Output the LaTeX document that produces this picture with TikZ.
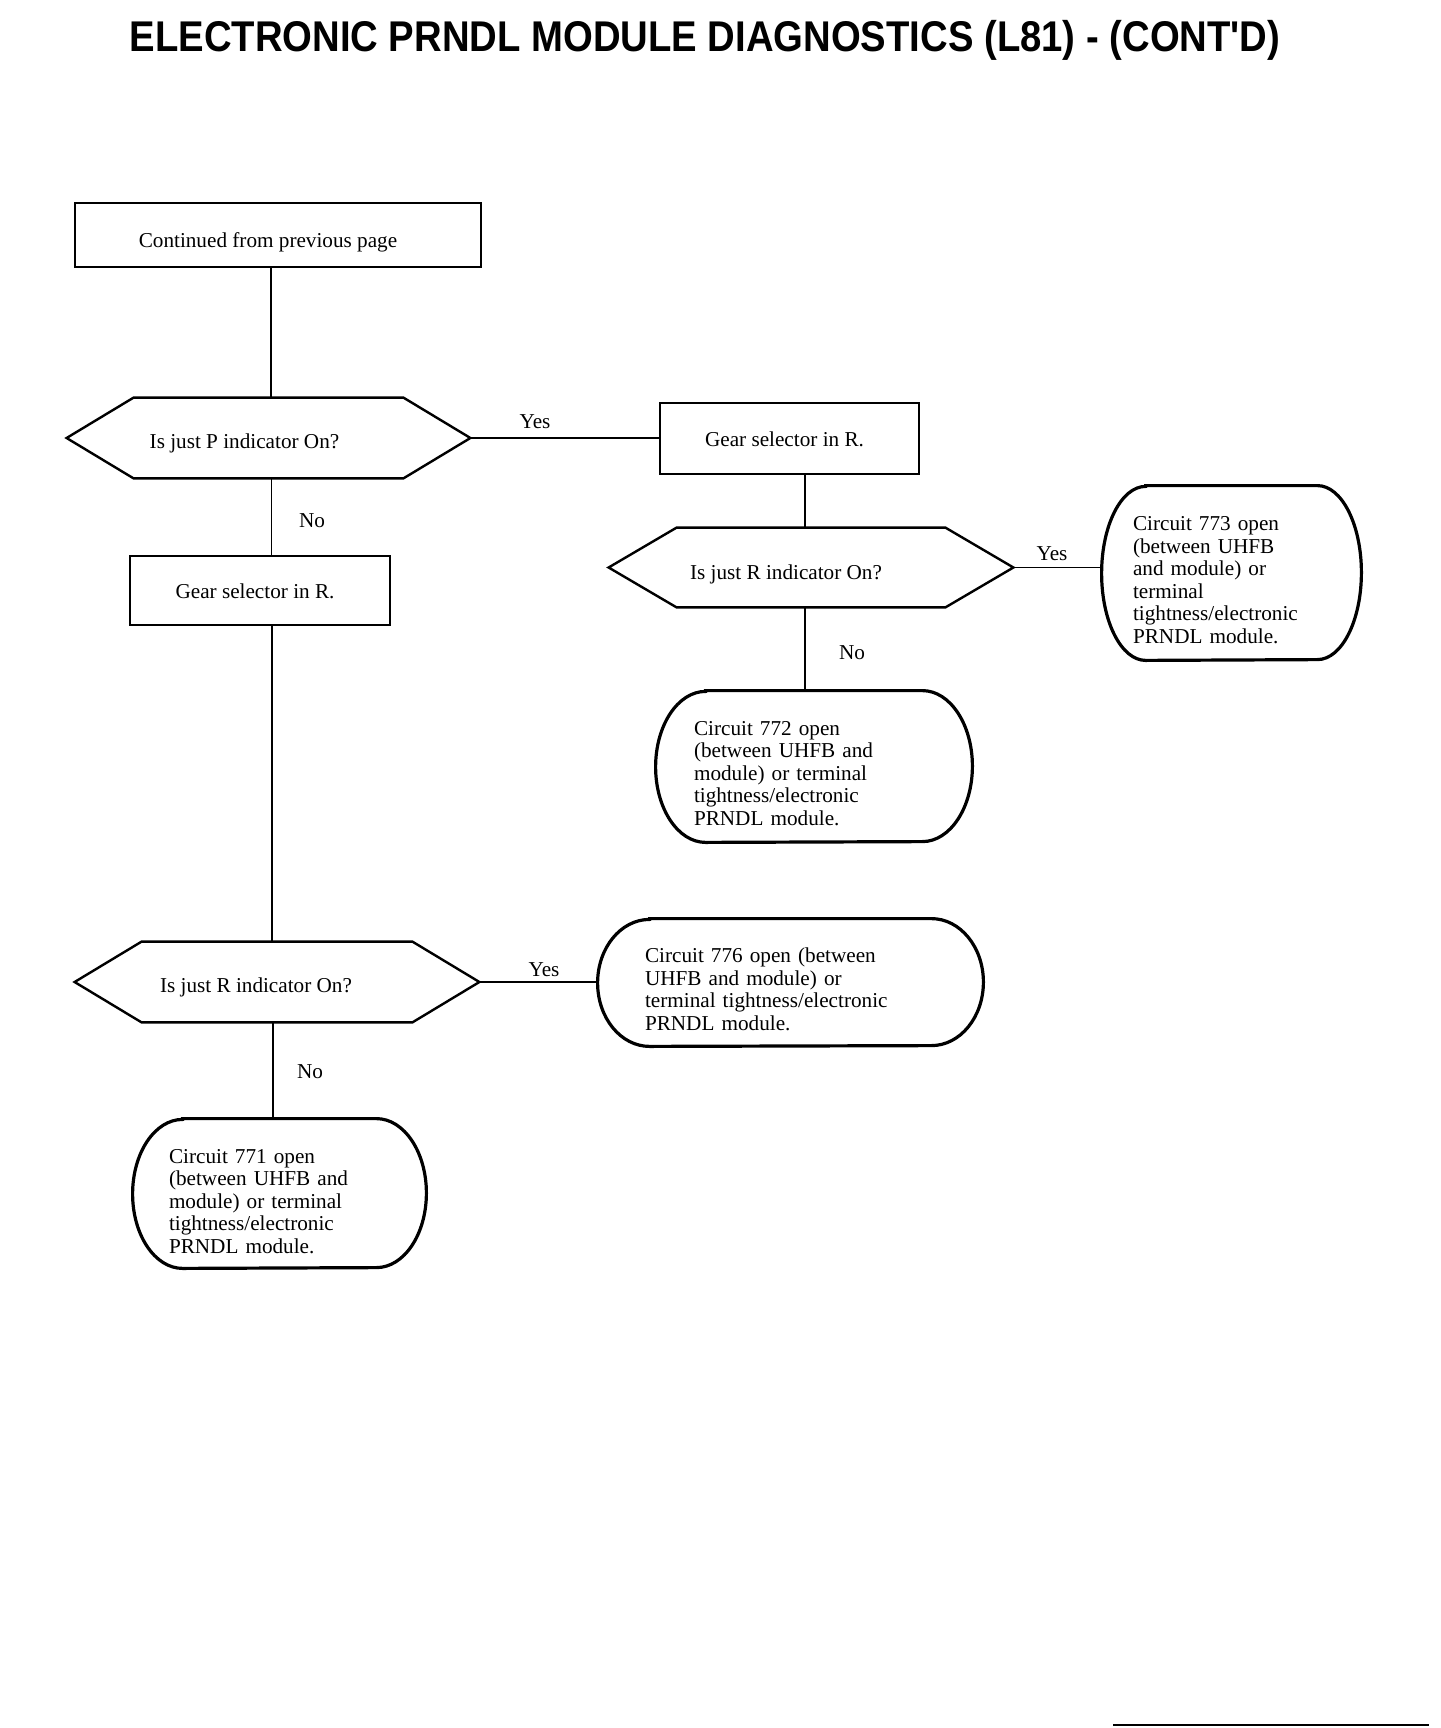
\documentclass[tikz,border=0pt]{standalone}
\usepackage{fontspec}
\setmainfont{Liberation Serif}
\newfontfamily\titlefont{Liberation Sans}
\usepackage{graphicx}
\newcommand\hexoutline[2]{\draw[hexline] (#1.west) -- ([xshift=#2]#1.north west) -- ([xshift=-#2]#1.north east) -- (#1.east) -- ([xshift=-#2]#1.south east) -- ([xshift=#2]#1.south west) -- cycle;}
\newcommand\termoutline[3]{\draw[termline] ([xshift=#2]#1.north west) -- ([xshift=-#2]#1.north east) arc[start angle=90,end angle=-90,x radius=#2,y radius=#3] -- ([xshift=#2]#1.south west) arc[start angle=270,end angle=90,x radius=#2,y radius=#3] -- cycle;}
\newcommand\tdown{\rule{0pt}{14pt}}
\begin{document}
\begin{tikzpicture}[x=0.5pt,y=-0.5pt,
  every node/.style={font=\fontsize{10.6pt}{11.25pt}\selectfont, inner sep=0pt},
  titlenode/.style={font=\titlefont\bfseries\fontsize{21.5pt}{24pt}\selectfont},
  boxnode/.style={draw, line width=1.2pt},
  hexnode/.style={draw=none},
  hexline/.style={line width=1.2pt, line join=miter},
  termnode/.style={draw=none, align=left},
  termline/.style={line width=1.6pt},
  conn/.style={line width=0.9pt},
  lab/.style={yshift=-0.8pt}]
\useasboundingbox (0,0) rectangle (1440,1728);

\node[titlenode] (title) at (705,40) {\scalebox{0.89}[1]{ELECTRONIC PRNDL MODULE DIAGNOSTICS (L81) - (CONT'D)}};

\node[boxnode, minimum width=203pt, minimum height=32pt,
  label={[xshift=-5pt,yshift=-3.7pt]center:Continued from previous page}] (cont) at (278,235) {};

\node[hexnode, minimum width=201.5pt, minimum height=40pt,
  label={[xshift=-12pt,yshift=-2.7pt]center:Is just P indicator On?}] (q1) at (268.5,438) {};
\hexoutline{q1}{33.5pt}

\node[boxnode, minimum width=129.5pt, minimum height=35.5pt,
  label={[xshift=-2.5pt,yshift=-0.6pt]center:Gear selector in R.}] (gR) at (789.5,438.5) {};

\node[hexnode, minimum width=202pt, minimum height=39.5pt,
  label={[xshift=-12.5pt,yshift=-3.2pt]center:Is just R indicator On?}] (q2) at (811,567.5) {};
\hexoutline{q2}{34pt}

\node[termnode, minimum width=129.5pt, minimum height=87pt, text width=98.5pt] (t773) at (1231.5,573)
  {\tdown Circuit 773 open\\(between UHFB\\and module) or\\terminal\\tightness/electronic\\PRNDL module.};
\termoutline{t773}{22pt}{43.5pt}

\node[termnode, minimum width=158pt, minimum height=75.5pt, text width=120pt] (t772) at (814,766.5)
  {\tdown Circuit 772 open\\(between UHFB and\\module) or terminal\\tightness/electronic\\PRNDL module.};
\termoutline{t772}{25pt}{37.75pt}

\node[boxnode, minimum width=130pt, minimum height=34.5pt,
  label={[xshift=-2.5pt,yshift=-0.6pt]center:Gear selector in R.}] (gL) at (260,590.5) {};

\node[hexnode, minimum width=202pt, minimum height=40pt,
  label={[xshift=-10.5pt,yshift=-2.7pt]center:Is just R indicator On?}] (q3) at (277,982) {};
\hexoutline{q3}{33.5pt}

\node[termnode, minimum width=192.5pt, minimum height=63.5pt, text width=145.5pt] (t776) at (790.5,982.5)
  {\tdown Circuit 776 open (between\\UHFB and module) or\\terminal tightness/electronic\\PRNDL module.};
\termoutline{t776}{26pt}{31.75pt}

\node[termnode, minimum width=146.5pt, minimum height=74.5pt, text width=110.5pt] (t771) at (279.5,1193.5)
  {\rule{0pt}{14.8pt}Circuit 771 open\\(between UHFB and\\module) or terminal\\tightness/electronic\\PRNDL module.};
\termoutline{t771}{25pt}{37.25pt}

% connectors
\draw[conn] ([xshift=1.25pt]q1.north |- cont.south) -- ([xshift=1.25pt]q1.north);
\draw[conn] (q1.east) -- (q1.east -| gR.west);
\draw[conn] ([xshift=7.75pt]gR.south) -- ([xshift=7.75pt]gR.south |- q2.north);
\draw[conn] (q2.east) -- (q2.east -| t773.west);
\draw[conn] ([xshift=-3pt]q2.south) -- ([xshift=-3pt]q2.south |- t772.north);
\draw[conn] ([xshift=1.5pt]q1.south) -- ([xshift=1.5pt]q1.south |- gL.north);
\draw[conn] ([xshift=6pt]gL.south) -- ([xshift=6pt]gL.south |- q3.north);
\draw[conn] ([xshift=-2pt]q3.south) -- ([xshift=-2pt]q3.south |- t771.north);
\draw[conn] (q3.east) -- (q3.east -| t776.west);

% labels
\node[lab] (y1) at (535,420) {Yes};
\node[lab] (n1) at (312,519) {No};
\node[lab] (y2) at (1052,552) {Yes};
\node[lab] (n2) at (852,651) {No};
\node[lab] (y3) at (544,968) {Yes};
\node[lab] (n3) at (310,1070) {No};

\coordinate (bl1) at (1113,1725);
\coordinate (bl2) at (1429,1725);
\draw[line width=1.2pt] (bl1) -- (bl2);
\end{tikzpicture}
\end{document}
